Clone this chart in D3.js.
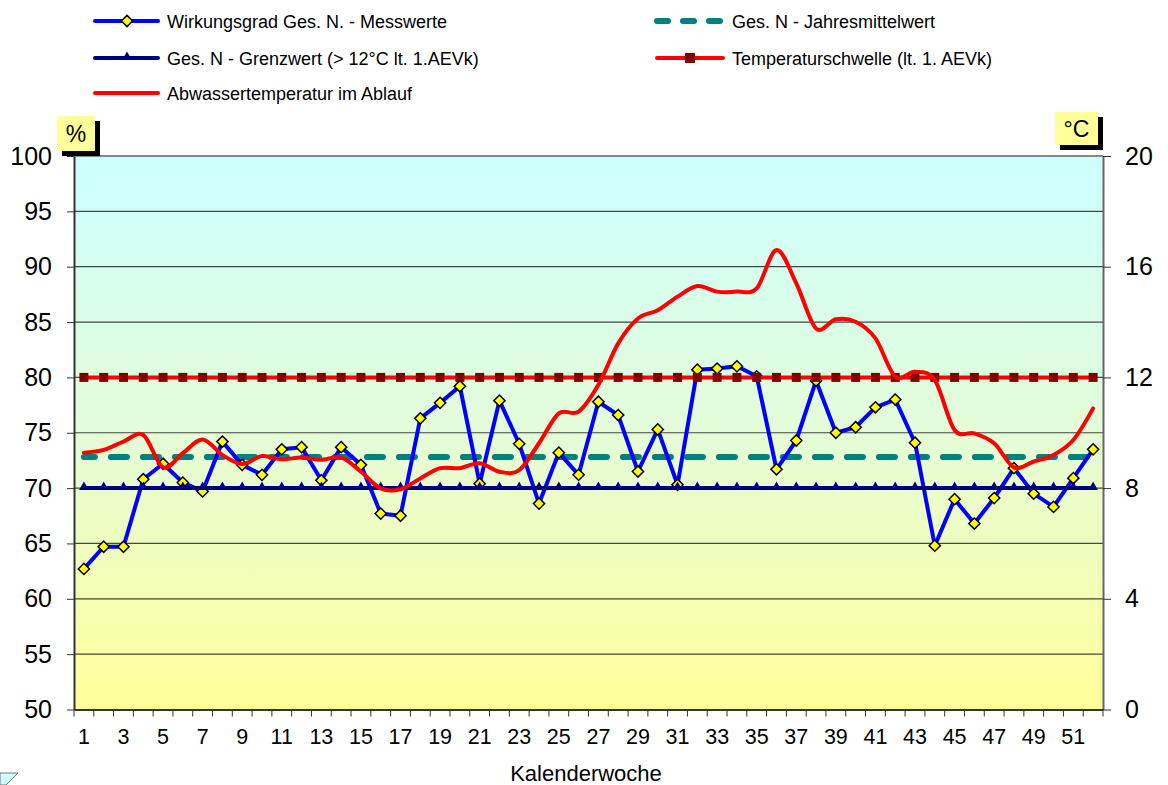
<!DOCTYPE html>
<html>
<head>
<meta charset="utf-8">
<title>Wirkungsgrad Ges. N</title>
<script src="https://d3js.org/d3.v7.min.js"></script>
<style>
  body { margin: 0; background: #fff; }
  text { font-family: "Liberation Sans", Arial, sans-serif; fill: #000; }
</style>
</head>
<body>
<svg id="chart" width="1168" height="785"></svg>
<script>
// data
var weeks = d3.range(1, 53);
var wirkungsgrad = [62.7, 64.7, 64.7, 70.8, 72.2, 70.5, 69.7, 74.2, 72.1, 71.2,
  73.5, 73.7, 70.7, 73.7, 72.1, 67.7, 67.5, 76.3, 77.7, 79.2,
  70.4, 77.9, 74.0, 68.6, 73.2, 71.2, 77.8, 76.6, 71.5, 75.3,
  70.3, 80.7, 80.8, 81.0, 80.1, 71.7, 74.3, 79.7, 75.0, 75.5,
  77.3, 78.0, 74.1, 64.8, 69.0, 66.8, 69.1, 71.8, 69.5, 68.3,
  70.9, 73.5];
var temperatur = [9.28, 9.38, 9.68, 9.92, 8.75, 9.26, 9.76, 9.2, 8.87, 9.16,
  9.04, 9.11, 9.02, 9.11, 8.59, 7.99, 7.96, 8.35, 8.72, 8.72,
  8.9, 8.59, 8.65, 9.62, 10.7, 10.76, 11.73, 13.23, 14.13, 14.43,
  14.92, 15.3, 15.1, 15.1, 15.22, 16.6, 15.4, 13.77, 14.1, 14.01,
  13.41, 12.03, 12.2, 11.9, 10.1, 9.98, 9.62, 8.75, 8.96, 9.2,
  9.74, 10.88];
var jahresmittel = 72.8;
var grenzwert = 70;
var tempSchwelle = 12;
var leftTicks = [50, 55, 60, 65, 70, 75, 80, 85, 90, 95, 100];
var rightTicks = [0, 4, 8, 12, 16, 20];

var svg = d3.select("#chart");
var pLeft = 74, pRight = 1103, pTop = 156, pBottom = 709.5;

var x = d3.scaleBand().domain(weeks).range([pLeft, pRight]);
var y = d3.scaleLinear().domain([50, 100]).range([pBottom, pTop]);
var y2 = d3.scaleLinear().domain([0, 20]).range([pBottom, pTop]);
var cx = function(w) { return x(w) + x.bandwidth() / 2; };

// background gradient
var grad = svg.append("defs").append("linearGradient")
  .attr("id", "bg").attr("x1", 0).attr("y1", 0).attr("x2", 0).attr("y2", 1);
grad.append("stop").attr("offset", "0%").attr("stop-color", "#ccffff");
grad.append("stop").attr("offset", "50%").attr("stop-color", "#e4fcd8");
grad.append("stop").attr("offset", "100%").attr("stop-color", "#ffff99");

svg.append("rect").attr("x", pLeft).attr("y", pTop)
  .attr("width", pRight - pLeft).attr("height", pBottom - pTop)
  .attr("fill", "url(#bg)");

// gridlines
svg.append("g").selectAll("line")
  .data(leftTicks.filter(function(d) { return d > 50 && d < 100; }))
  .join("line")
  .attr("x1", pLeft).attr("x2", pRight)
  .attr("y1", function(d) { return y(d); }).attr("y2", function(d) { return y(d); })
  .attr("stroke", "#1a1a1a").attr("stroke-width", 1.2).attr("stroke-opacity", 0.8);

svg.append("line").attr("x1", pLeft).attr("x2", pRight).attr("y1", pTop).attr("y2", pTop)
  .attr("stroke", "#888").attr("stroke-width", 2);

// axes
var axL = svg.append("g").attr("transform", "translate(" + pLeft + ",0)")
  .call(d3.axisLeft(y).tickValues(leftTicks).tickSize(7).tickSizeOuter(0).tickPadding(15));
axL.select(".domain").attr("stroke", "#333").attr("stroke-width", 2);
axL.selectAll(".tick line").attr("stroke", "#333");
axL.selectAll("text").style("font-size", "25px").attr("fill", "#000");

var axR = svg.append("g").attr("transform", "translate(" + pRight + ",0)")
  .call(d3.axisRight(y2).tickValues(rightTicks).tickSize(8).tickSizeOuter(0).tickPadding(14));
axR.select(".domain").attr("stroke", "#666").attr("stroke-width", 2);
axR.selectAll(".tick line").attr("stroke", "#333");
axR.selectAll("text").style("font-size", "25px").attr("fill", "#000");

var axB = svg.append("g").attr("transform", "translate(0," + pBottom + ")")
  .call(d3.axisBottom(x).tickSize(0).tickSizeOuter(0).tickPadding(19)
    .tickFormat(function(d) { return d % 2 === 1 ? d : ""; }));
axB.select(".domain").attr("stroke", "#333").attr("stroke-width", 2);
axB.selectAll("text").style("font-size", "21.5px").attr("fill", "#000");
svg.append("g").selectAll("line")
  .data(weeks.concat([53]))
  .join("line")
  .attr("x1", function(d) { return pLeft + (d - 1) * x.step(); })
  .attr("x2", function(d) { return pLeft + (d - 1) * x.step(); })
  .attr("y1", pBottom).attr("y2", pBottom + 7)
  .attr("stroke", "#333").attr("stroke-width", 1);

svg.append("text").attr("x", 586).attr("y", 781).attr("text-anchor", "middle")
  .style("font-size", "22px").text("Kalenderwoche");

// unit boxes
function unitBox(bx, by, w, h, label) {
  svg.append("rect").attr("x", bx + 5).attr("y", by + 5).attr("width", w).attr("height", h).attr("fill", "#000");
  svg.append("rect").attr("x", bx).attr("y", by).attr("width", w).attr("height", h).attr("fill", "#ffff99");
  svg.append("text").attr("x", bx + w / 2).attr("y", by + h / 2 + 8).attr("text-anchor", "middle")
    .style("font-size", "23px").text(label);
}
unitBox(57, 116, 38, 35, "%");
unitBox(1055, 112, 43, 33, "°C");

// series
var lineY = d3.line().x(function(d, i) { return cx(weeks[i]); }).y(function(d) { return y(d); });

// mean
svg.append("path")
  .attr("d", lineY(weeks.map(function() { return jahresmittel; })))
  .attr("fill", "none").attr("stroke", "#008080").attr("stroke-width", 6)
  .attr("stroke-dasharray", "16,16").attr("stroke-dashoffset", 5)
  .attr("stroke-linecap", "round");

// Wirkungsgrad
svg.append("path").attr("d", lineY(wirkungsgrad))
  .attr("fill", "none").attr("stroke", "#0000ff").attr("stroke-width", 4)
  .attr("stroke-linejoin", "round");
var diamond = d3.symbol().type(d3.symbolDiamond2).size(80);
svg.append("g").selectAll("path").data(wirkungsgrad).join("path")
  .attr("d", diamond)
  .attr("transform", function(d, i) { return "translate(" + cx(weeks[i]) + "," + y(d) + ")"; })
  .attr("fill", "#ffff00").attr("stroke", "#000").attr("stroke-width", 1.5);

// Grenzwert
svg.append("path").attr("d", lineY(weeks.map(function() { return grenzwert; })))
  .attr("fill", "none").attr("stroke", "#000080").attr("stroke-width", 4);
var tri = d3.symbol().type(d3.symbolTriangle).size(40);
svg.append("g").selectAll("path").data(weeks).join("path")
  .attr("d", tri)
  .attr("transform", function(d) { return "translate(" + cx(d) + "," + (y(grenzwert) - 1) + ")"; })
  .attr("fill", "#000080");

// Temperaturschwelle
var lineT = d3.line().x(function(d, i) { return cx(weeks[i]); }).y(function(d) { return y2(d); });
svg.append("path").attr("d", lineT(weeks.map(function() { return tempSchwelle; })))
  .attr("fill", "none").attr("stroke", "#ff0000").attr("stroke-width", 4);
svg.append("g").selectAll("rect").data(weeks).join("rect")
  .attr("x", function(d) { return cx(d) - 4.5; }).attr("y", y2(tempSchwelle) - 4.5)
  .attr("width", 9).attr("height", 9).attr("fill", "#800000");

// Abwassertemperatur
svg.append("path").attr("d", lineT.curve(d3.curveCatmullRom.alpha(0))(temperatur))
  .attr("fill", "none").attr("stroke", "#ff0000").attr("stroke-width", 4)
  .attr("stroke-linecap", "round");

// legend
var leg = svg.append("g");
function legLine(x1, x2, yy, color, w, dash) {
  var l = leg.append("line").attr("x1", x1).attr("x2", x2).attr("y1", yy).attr("y2", yy)
    .attr("stroke", color).attr("stroke-width", w).attr("stroke-linecap", "round");
  if (dash) l.attr("stroke-dasharray", dash);
}
function legText(tx, ty, s) {
  leg.append("text").attr("x", tx).attr("y", ty + 6.5).style("font-size", "18px").text(s);
}
legLine(95, 158, 21, "#0000ff", 4);
leg.append("path").attr("d", diamond).attr("transform", "translate(127,21)")
  .attr("fill", "#ffff00").attr("stroke", "#000").attr("stroke-width", 1.5);
legText(167, 21, "Wirkungsgrad Ges. N. - Messwerte");

legLine(95, 158, 58, "#000080", 4);
leg.append("path").attr("d", tri).attr("transform", "translate(127,57)").attr("fill", "#000080");
legText(167, 58, "Ges. N - Grenzwert (> 12°C lt. 1.AEVk)");

legLine(95, 158, 93, "#ff0000", 4);
legText(167, 93, "Abwassertemperatur im Ablauf");

legLine(657, 722, 21, "#008080", 6, "11,15");
legText(732, 21, "Ges. N - Jahresmittelwert");

legLine(657, 723, 58, "#ff0000", 4);
leg.append("rect").attr("x", 685).attr("y", 53).attr("width", 10).attr("height", 10).attr("fill", "#800000");
legText(732, 58, "Temperaturschwelle (lt. 1. AEVk)");

// little corner fragment at the bottom left
svg.append("path").attr("d", "M0,773 L18,773 L6,785 L0,785 Z")
  .attr("fill", "#ccffff").attr("stroke", "#777").attr("stroke-width", 1);
</script>
</body>
</html>
